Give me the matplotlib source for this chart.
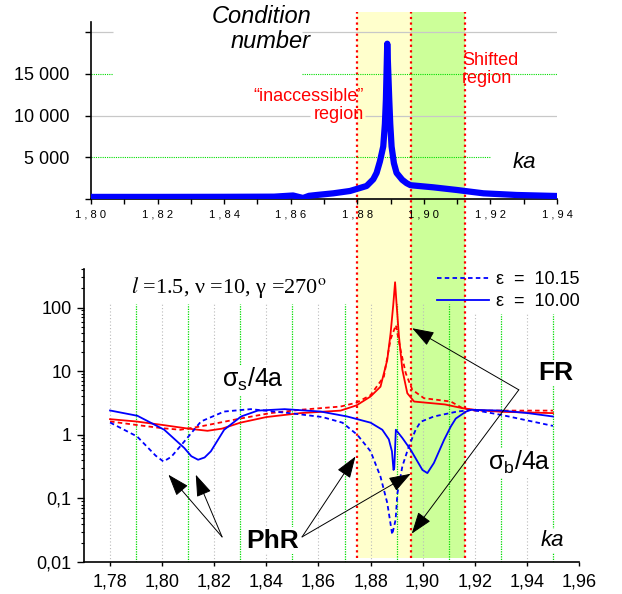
import matplotlib
matplotlib.use('Agg')
import matplotlib.pyplot as plt
import matplotlib.transforms as mtransforms
from matplotlib.patches import Rectangle
from matplotlib.lines import Line2D
from matplotlib.ticker import NullFormatter

plt.rcParams['font.family'] = ['Liberation Sans', 'DejaVu Sans']

# ---- top panel: condition number vs ka
cond_ka = [1.800, 1.820, 1.840, 1.855, 1.8607, 1.8637, 1.8655, 1.8678, 1.8728, 1.8778,
           1.8828, 1.8848, 1.8858, 1.8868, 1.8878, 1.8883, 1.8886, 1.8890, 1.8896, 1.8899,
           1.8903, 1.8910, 1.8918, 1.8935, 1.8948, 1.8960, 1.9028, 1.9099, 1.9179, 1.9279,
           1.9399]
cond_val = [250, 250, 260, 280, 420, 120, 380, 480, 680, 960,
            1560, 2360, 3125, 4500, 6290, 9000, 11900, 18600, 11900, 9000,
            6290, 4300, 3125, 2300, 1900, 1650, 1400, 1080, 680, 480,
            360]

# ---- bottom panel: sigma_s/4a (red) and sigma_b/4a (blue), eps = 10.00 (solid) / 10.15 (dashed)
ss_100_ka = [1.78, 1.79, 1.80, 1.81, 1.8174, 1.823, 1.83, 1.84, 1.853, 1.8685, 1.8746, 1.88,
             1.8838, 1.8864, 1.8877, 1.8887, 1.8894, 1.8900, 1.8909, 1.8922, 1.8941, 1.8967,
             1.903, 1.9085, 1.9153, 1.92, 1.93, 1.95]
ss_100 = [1.76, 1.62, 1.43, 1.25, 1.155, 1.25, 1.55, 1.9, 2.19, 2.4, 2.9, 4.0,
          5.7, 15, 40, 110, 250, 110, 35, 10.5, 4.5, 3.33,
          3.15, 3.0, 2.62, 2.47, 2.3, 2.19]

ss_115_ka = [1.78, 1.79, 1.80, 1.807, 1.8146, 1.83, 1.8415, 1.853, 1.8685, 1.8746, 1.88,
             1.8851, 1.8877, 1.8897, 1.8915, 1.8935, 1.896, 1.9005, 1.9108, 1.9153, 1.92, 1.95]
ss_115 = [1.62, 1.43, 1.27, 1.2, 1.35, 1.8, 2.19, 2.47, 2.78, 3.2, 4.2,
          8.2, 32, 53, 21.6, 9.3, 5.1, 3.76, 3.33, 2.62, 2.4, 2.4]

sb_100_ka = [1.78, 1.7905, 1.8008, 1.8085, 1.8112, 1.8138, 1.8163, 1.8187, 1.8238, 1.8303,
             1.8367, 1.847, 1.8608, 1.871, 1.88, 1.8845, 1.887, 1.8882, 1.8888, 1.8891,
             1.8897, 1.8922, 1.8954, 1.8999, 1.9018, 1.9043, 1.9082, 1.9108, 1.9127, 1.9165,
             1.9185, 1.93, 1.94, 1.95]
sb_100 = [2.41, 1.99, 1.2, 0.62, 0.46, 0.405, 0.44, 0.55, 1.2, 1.94,
          2.4, 2.53, 2.32, 1.94, 1.55, 1.2, 0.85, 0.55, 0.28, 0.3,
          1.2, 0.89, 0.58, 0.28, 0.25, 0.36, 0.83, 1.35, 1.8, 2.3,
          2.47, 2.4, 2.2, 1.94]

sb_115_ka = [1.78, 1.7904, 1.7975, 1.8005, 1.8035, 1.8085, 1.8149, 1.8238, 1.834, 1.8415,
             1.849, 1.8615, 1.8692, 1.8749, 1.88, 1.8838, 1.8864, 1.8883, 1.8896, 1.8903,
             1.8922, 1.8947, 1.8973, 1.8992, 1.9043, 1.9133, 1.9185, 1.9235, 1.93, 1.95]
sb_115 = [1.56, 0.94, 0.47, 0.38, 0.45, 0.785, 1.62, 2.32, 2.53, 2.35,
          2.19, 1.9, 1.55, 1.0, 0.55, 0.22, 0.085, 0.027, 0.046, 0.12,
          0.32, 0.66, 1.2, 1.6, 1.94, 2.32, 2.45, 2.3, 2.06, 1.38]

# region boundaries (bottom ka scale): "inaccessible" / shifted
region_edges = [1.8749, 1.8957, 1.9163]

top_xticks = [1.80, 1.82, 1.84, 1.86, 1.88, 1.90, 1.92, 1.94]
top_yticks = [0, 5000, 10000, 15000, 20000]
top_ylabels = ['', '5 000', '10 000', '15 000', '']
bot_xticks = [1.78, 1.80, 1.82, 1.84, 1.86, 1.88, 1.90, 1.92, 1.94, 1.96]
bot_yticks = [0.01, 0.1, 1, 10, 100]
bot_ylabels = ['0,01', '0,1', '1', '10', '100']
bot_grid_ka = [1.78, 1.79, 1.80, 1.81, 1.82, 1.83, 1.84, 1.85, 1.86, 1.87, 1.88,
               1.89, 1.90, 1.91, 1.92, 1.93, 1.94, 1.95]

W, H = 622, 594
fig = plt.figure(figsize=(W / 100, H / 100), dpi=100)


def fx(px):
    return px / W


def fy(py):
    return 1 - py / H


ax1 = fig.add_axes([fx(91), fy(199), (557 - 91) / W, (199 - 22) / H])
ax2 = fig.add_axes([fx(84), fy(562), (579 - 84) / W, (562 - 269) / H])
for ax in (ax1, ax2):
    ax.set_facecolor('none')
    ax.spines['top'].set_visible(False)
    ax.spines['right'].set_visible(False)
    ax.spines['left'].set_linewidth(1.2)
    ax.spines['bottom'].set_linewidth(1.2)

# shaded regions spanning both panels
trans = mtransforms.blended_transform_factory(ax2.transData, fig.transFigure)
for (x0, x1, col) in [(region_edges[0], region_edges[1], '#ffffcc'),
                      (region_edges[1], region_edges[2], '#ccff99')]:
    fig.add_artist(Rectangle((x0, fy(558)), x1 - x0, fy(12) - fy(558), transform=trans,
                             facecolor=col, edgecolor='none', zorder=-2))
for x in region_edges:
    fig.add_artist(Line2D([x, x], [fy(558), fy(12)], transform=trans, color='red',
                          ls=(0, (1, 1.5)), lw=1.6, zorder=-1))

# ---------------- top panel
ax1.set_xlim(1.80, 1.94)
ax1.set_ylim(0, 21200)
ax1.hlines([20000, 20000], [1.80, 1.8634], [1.8066, 1.94], color='#c8c8c8', lw=0.9)
ax1.hlines([10000, 10000], [1.80, 1.8823], [1.8658, 1.94], color='#c8c8c8', lw=0.9)
ax1.hlines([15000, 15000], [1.80, 1.8634], [1.8066, 1.94], color='#00dd00', lw=0.8, ls=(0, (1, 1)))
ax1.hlines([5000], [1.80], [1.9202], color='#00dd00', lw=0.8, ls=(0, (1, 1)))
ax1.plot(cond_ka, cond_val, color='#0000ff', lw=4.5, solid_joinstyle='round',
         solid_capstyle='round', zorder=3)

ax1.set_xticks(top_xticks)
ax1.set_xticklabels([' '.join(f'{v:.2f}'.replace('.', ',')) for v in top_xticks], fontsize=8)
ax1.set_xticks([1.81, 1.83, 1.85, 1.87, 1.89, 1.91, 1.93], minor=True)
ax1.set_yticks(top_yticks)
ax1.set_yticklabels(top_ylabels, fontsize=13)
ax1.tick_params(axis='x', which='both', direction='out', length=3.5, width=1, pad=4)
ax1.tick_params(axis='y', direction='out', length=4.5, width=1, pad=11)

ax1.text(1.8661, 20370, 'Condition\nnumber', ha='right', va='center', multialignment='right',
         fontsize=17, style='italic', linespacing=1.15)
ax1.text(1.8820, 11240, '\u201cinaccessible\u201d\nregion', ha='right', va='center',
         multialignment='right', fontsize=13, color='red', linespacing=1.1)
ax1.text(1.9115, 15500, 'Shifted\nregion', ha='left', va='center', fontsize=13,
         color='red', linespacing=1.1)
ax1.text(1.9301, 4360, 'ka', ha='center', va='center', fontsize=16, style='italic')

# ---------------- bottom panel
ax2.set_yscale('log')
ax2.set_xlim(1.77, 1.96)
ax2.set_ylim(0.01, 404)
for i, x in enumerate(bot_grid_ka):
    top = 80 if x > 1.915 else 112
    if i % 2 == 0:
        ax2.vlines(x, 0.01, top, color='#bbbbbb', lw=0.8, ls=(0, (1, 2)), zorder=1)
    else:
        ax2.vlines(x, 0.01, top, color='#00dd00', lw=0.9, ls=(0, (1, 1)), zorder=1)

ax2.plot(ss_100_ka, ss_100, color='#ff0000', lw=1.3, zorder=3)
ax2.plot(ss_115_ka, ss_115, color='#ff0000', lw=1.3, ls=(0, (2.5, 1.8)), zorder=3)
l_solid, = ax2.plot(sb_100_ka, sb_100, color='#0000ff', lw=1.3, zorder=3)
l_dash, = ax2.plot(sb_115_ka, sb_115, color='#0000ff', lw=1.3, ls=(0, (2.5, 1.8)), zorder=3)

ax2.set_xticks(bot_xticks)
ax2.set_xticklabels([f'{v:.2f}'.replace('.', ',') for v in bot_xticks], fontsize=13)
ax2.set_yticks(bot_yticks)
ax2.set_yticklabels(bot_ylabels, fontsize=13)
ax2.yaxis.set_minor_formatter(NullFormatter())
ax2.tick_params(axis='x', direction='out', length=3, width=1, pad=5)
ax2.tick_params(axis='y', which='major', direction='out', length=5, width=1, pad=4)
ax2.tick_params(axis='y', which='minor', direction='out', length=2.5, width=0.8)

ax2.legend(handles=[l_dash, l_solid], labels=['\u03b5  =  10.15', '\u03b5  =  10.00'],
           loc='upper left', bbox_to_anchor=(fx(437), fy(271)), bbox_transform=fig.transFigure,
           frameon=False, fontsize=13, handlelength=2.9, handletextpad=0.35,
           borderpad=0, borderaxespad=0, labelspacing=0.3)

wbox = dict(facecolor='white', edgecolor='none', pad=1)
ax2.text(1.8258, 210, '$\\mathit{l}$ =1.5, \u03bd =10, \u03b3 =270$^\\mathrm{o}$',
         ha='center', va='center', fontsize=16, family=['Liberation Serif', 'DejaVu Serif'],
         math_fontfamily='stix', bbox=wbox, zorder=4)
ax2.text(1.835, 7.3, r'$\mathregular{\sigma_s}$/4a', ha='center', va='center', fontsize=18,
         bbox=wbox, zorder=4)
ax2.text(1.937, 0.363, r'$\mathregular{\sigma_b}$/4a', ha='center', va='center', fontsize=18,
         bbox=wbox, zorder=4)
ax2.text(1.9512, 9.4, 'FR', ha='center', va='center', fontsize=19, weight='bold',
         bbox=wbox, zorder=4)
ax2.text(1.8423, 0.0216, 'PhR', ha='center', va='center', fontsize=19, weight='bold',
         bbox=wbox, zorder=4)
ax2.text(1.9496, 0.0216, 'ka', ha='center', va='center', fontsize=16, style='italic',
         bbox=wbox, zorder=4)

arrow = dict(arrowstyle='-|>,head_length=0.8,head_width=0.28', mutation_scale=17,
             lw=0.7, color='black', shrinkA=0, shrinkB=0)
# FR arrows
for tip in [(1.8960, 47.3), (1.8958, 0.0279)]:
    ax2.annotate('', xy=tip, xytext=(1.9369, 5.09), arrowprops=arrow, zorder=5)
# PhR arrows
for tip in [(1.8024, 0.236), (1.8129, 0.236)]:
    ax2.annotate('', xy=tip, xytext=(1.8230, 0.0248), arrowprops=arrow, zorder=5)
for tip in [(1.8742, 0.456), (1.8954, 0.244)]:
    ax2.annotate('', xy=tip, xytext=(1.8537, 0.0248), arrowprops=arrow, zorder=5)

fig.savefig('out.png', dpi=100)
